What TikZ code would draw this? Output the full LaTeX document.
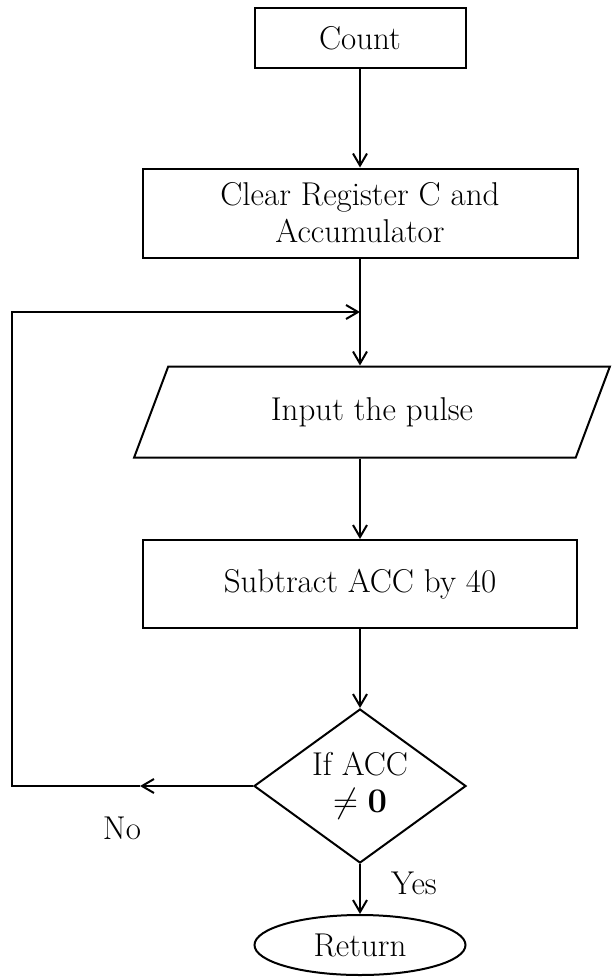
\documentclass[tikz,border=0pt]{standalone}
\usepackage{amsmath}
\usepackage{amssymb}
\usetikzlibrary{arrows.meta, shapes.geometric}
\newcommand{\chartfont}{\fontsize{16.5}{18.5}\selectfont}
\tikzset{block/.style = {shape = rectangle, draw, inner sep = 0pt, align = center, font = \chartfont}}
\tikzset{io/.style = {shape = trapezium, draw, trapezium left angle = 60, trapezium right angle = 120, trapezium stretches = true, inner sep = 0pt, font = \chartfont}}
\tikzset{decision/.style = {shape = diamond, draw, aspect = 1.37, inner sep = 0pt, align = center, minimum width = 106pt, minimum height = 77pt, font = \chartfont}}
\tikzset{terminal/.style = {shape = ellipse, draw, inner sep = 0pt, minimum width = 105.5pt, minimum height = 30pt, font = \chartfont}}
\tikzset{tag/.style = {font = \chartfont}}
\tikzset{flow/.style = {-{Straight Barb[length = 6pt, width = 7pt]}}}

\begin{document}
\begin{tikzpicture}[x = 0.5pt, y = -0.5pt, line width = 1pt]
	\useasboundingbox (0, 0) rectangle (612, 980);

	\node[block, minimum width = 105.5pt, minimum height = 30pt] (count) at (360, 38) {Count};
	\node[block, minimum width = 217.5pt, minimum height = 44.5pt] (clear) at (360, 213) {Clear Register C and\\Accumulator};
	\node[io, minimum width = 238pt, minimum height = 45.5pt] (pulse) at (372, 412) {Input the pulse};
	\node[block, minimum width = 217pt, minimum height = 44pt] (sub) at (360, 584) {Subtract ACC by 40};
	\node[decision] (test) at (360, 786) {If ACC\\$\neq \mathbf{0}$};
	\node[terminal] (ret) at (360, 945) {Return};
	\node[tag] (yes) at (414, 883) {Yes};
	\node[tag] (no) at (122, 828) {No};

	\coordinate (join) at (360, 312);
	\coordinate (back) at (140, 786);
	\coordinate (corner) at (12, 786);

	\draw[flow] (count) -- (clear);
	\draw (clear) -- (join);
	\draw[flow] (join) -- (join |- pulse.north);
	\draw[flow] (join |- pulse.south) -- (sub);
	\draw[flow] (sub) -- (test);
	\draw[flow] (test) -- (ret);
	\draw[flow] (test) -- (back);
	\draw[flow] (back) -- (corner) |- (join);
\end{tikzpicture}
\end{document}
